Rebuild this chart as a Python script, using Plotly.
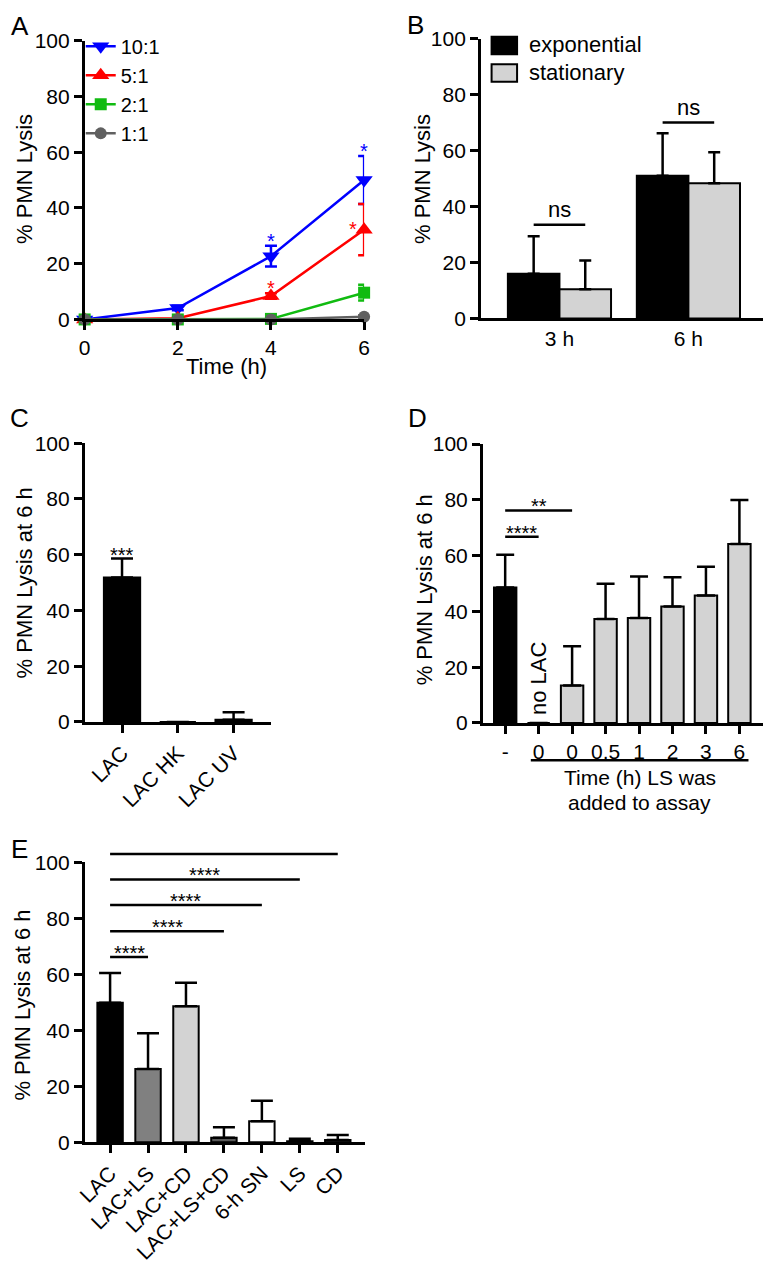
import plotly.graph_objects as go

W, H = 771, 1263
FONT = "Liberation Sans, Arial, sans-serif"
OFF = 8  # the page body adds an 8 px margin; positions below are in screenshot pixels

# ---------------- data ----------------
# Panel A
timesA = [0, 2, 4, 6]
ratio_names = ["10:1", "5:1", "2:1", "1:1"]
lysis_10 = [0, 4.1, 22.7, 50.0]
err_10 = [0, 0.8, 3.7, 8.6]
lysis_5 = [0, 0.4, 8.4, 32.2]
err_5 = [0, 0.3, 1.0, 9.2]
lysis_2 = [0, 0, 0.2, 9.6]
err_2 = [0, 0, 0.3, 2.8]
lysis_1 = [0, 0, 0, 1.0]
err_1 = [0, 0, 0, 0.5]
colorsA = ["#0000ff", "#ff0000", "#11bb11", "#606060"]
symbolsA = ["triangle-down", "triangle-up", "square", "circle"]
starsA = [(0, 2), (0, 3), (1, 2), (1, 3)]  # (series index, time index)

# Panel B
phase_cats = ["3 h", "6 h"]
phase_names = ["exponential", "stationary"]
exp_vals = [16.0, 51.0]
exp_err = [13.4, 15.2]
stat_vals = [10.4, 48.3]
stat_err = [10.3, 11.1]
nsB = [(0, 33.5), (1, 70.0)]

# Panel C
c_cats = ["LAC", "LAC HK", "LAC UV"]
c_vals = [51.8, 0, 0.8]
c_err = [6.8, 0, 2.7]

# Panel D
d_ticks = ["-", "0", "0", "0.5", "1", "2", "3", "6"]
d_vals = [48.6, 0, 13.4, 37.3, 37.6, 41.8, 45.7, 64.2]
d_err = [11.7, 0, 14.1, 12.6, 14.9, 10.5, 10.3, 15.8]
d_colors = ["black"] + ["#d3d3d3"] * 7
sigD = [(0, 1, 66.8, "****"), (0, 2, 76.2, "**")]

# Panel E
e_cats = ["LAC", "LAC+LS", "LAC+CD", "LAC+LS+CD", "6-h SN", "LS", "CD"]
e_vals = [49.8, 26.2, 48.6, 1.6, 7.5, 0.3, 0.8]
e_err = [10.7, 12.7, 8.4, 3.7, 7.3, 0.9, 1.8]
e_colors = ["black", "#808080", "#d3d3d3", "#595959", "white", "white", "#404040"]
sigE = [(0, 1, 66.2), (0, 3, 75.4), (0, 4, 84.8), (0, 5, 93.9), (0, 6, 103.0)]


# ---------------- helpers ----------------
def px(x):
    return (x - OFF) / W


def py(y):
    return 1 - (y - OFF) / H


ranges = {
    "A": [0, 6],
    "B": [-0.61, 1.58],
    "C": [-0.67, 2.67],
    "D": [-0.67, 7.74],
    "E": [-0.67, 6.72],
}
xdom = {"A": [77, 362], "B": [481, 769], "C": [77, 267], "D": [483, 770], "E": [77, 363]}
ydom = {"A": [313, 29], "B": [312, 27], "C": [723, 439], "D": [724, 440], "E": [1151, 866]}


def xpaper(panel, v):
    r0, r1 = ranges[panel]
    d0, d1 = xdom[panel]
    return px(d0 + (v - r0) / (r1 - r0) * (d1 - d0))


def ypaper(panel, v):
    d0, d1 = ydom[panel]
    return py(d0 + v / 100 * (d1 - d0))


fig = go.Figure()

# ---------------- Panel A ----------------
seriesA = [(lysis_10, err_10), (lysis_5, err_5), (lysis_2, err_2), (lysis_1, err_1)]
for i, (vals, errs) in enumerate(seriesA):
    fig.add_trace(go.Scatter(
        x=timesA, y=vals, name=ratio_names[i], mode="lines+markers",
        line=dict(color=colorsA[i], width=2.5),
        marker=dict(symbol=symbolsA[i], size=15 if i < 2 else 12, color=colorsA[i]),
        error_y=dict(type="data", array=errs, color=colorsA[i], thickness=2.5, width=6),
        cliponaxis=False, xaxis="x", yaxis="y", legend="legend",
    ))

# ---------------- Panel B ----------------
fig.add_trace(go.Bar(
    x=[0, 1], y=exp_vals, name=phase_names[0], marker=dict(color="black", line=dict(color="black", width=2)),
    error_y=dict(type="data", symmetric=False, array=exp_err, arrayminus=[0, 0], color="black", thickness=2.5, width=6),
    xaxis="x2", yaxis="y2", showlegend=False, offsetgroup="e",
))
fig.add_trace(go.Bar(
    x=[0, 1], y=stat_vals, name=phase_names[1], marker=dict(color="#d3d3d3", line=dict(color="black", width=2)),
    error_y=dict(type="data", symmetric=False, array=stat_err, arrayminus=[0, 0], color="black", thickness=2.5, width=6),
    xaxis="x2", yaxis="y2", showlegend=False, offsetgroup="s",
))

# ---------------- Panel C ----------------
fig.add_trace(go.Bar(
    x=list(range(len(c_cats))), y=c_vals, width=0.65,
    marker=dict(color="black", line=dict(color="black", width=2)),
    error_y=dict(type="data", symmetric=False, array=c_err, arrayminus=[0] * len(c_err), color="black", thickness=2.5, width=11),
    xaxis="x3", yaxis="y3", showlegend=False,
))

# ---------------- Panel D ----------------
fig.add_trace(go.Bar(
    x=list(range(len(d_ticks))), y=d_vals, width=0.67,
    marker=dict(color=d_colors, line=dict(color="black", width=2)),
    error_y=dict(type="data", symmetric=False, array=d_err, arrayminus=[0] * len(d_err), color="black", thickness=2.5, width=9),
    xaxis="x4", yaxis="y4", showlegend=False,
))

# ---------------- Panel E ----------------
fig.add_trace(go.Bar(
    x=list(range(len(e_cats))), y=e_vals, width=0.67,
    marker=dict(color=e_colors, line=dict(color="black", width=2)),
    error_y=dict(type="data", symmetric=False, array=e_err, arrayminus=[0] * len(e_err), color="black", thickness=2.5, width=11),
    xaxis="x5", yaxis="y5", showlegend=False,
))

# ---------------- axes ----------------
base = dict(showline=True, linecolor="black", linewidth=2.5, ticks="outside", ticklen=8,
            tickwidth=2.5, tickcolor="black", showgrid=False, zeroline=False,
            tickfont=dict(size=21, color="black", family=FONT))
ybase = dict(base, range=[0, 100], tickvals=[0, 20, 40, 60, 80, 100])

layout = dict(
    width=W, height=H, margin=dict(l=0, r=0, t=0, b=0),
    plot_bgcolor="white", paper_bgcolor="white",
    font=dict(family=FONT, color="black", size=21),
    barmode="group", bargap=0.2, bargroupgap=0,
    legend=dict(x=px(73), y=py(15), xanchor="left", yanchor="top", bgcolor="rgba(0,0,0,0)",
                font=dict(size=20), itemwidth=30, tracegroupgap=0),
)
names = {"A": ("xaxis", "yaxis", "x", "y"), "B": ("xaxis2", "yaxis2", "x2", "y2"),
         "C": ("xaxis3", "yaxis3", "x3", "y3"), "D": ("xaxis4", "yaxis4", "x4", "y4"),
         "E": ("xaxis5", "yaxis5", "x5", "y5")}
for p, (xn, yn, xa, ya) in names.items():
    layout[xn] = dict(base, domain=[px(xdom[p][0]), px(xdom[p][1])], range=ranges[p], anchor=ya)
    layout[yn] = dict(ybase, domain=[py(ydom[p][0]), py(ydom[p][1])], anchor=xa)

layout["xaxis"].update(tickvals=timesA)
layout["xaxis2"].update(tickvals=[0, 1], ticktext=phase_cats, ticks="")
layout["xaxis3"].update(tickvals=list(range(len(c_cats))), ticktext=c_cats, tickangle=-45)
layout["xaxis4"].update(tickvals=list(range(len(d_ticks))), ticktext=d_ticks)
layout["xaxis5"].update(tickvals=list(range(len(e_cats))), ticktext=e_cats, tickangle=-45)
fig.update_layout(**layout)

ann = []
shapes = []


def text(x, y, s, size=22, **kw):
    d = dict(x=x, y=y, xref="paper", yref="paper", text=s, showarrow=False,
             xanchor="center", yanchor="middle",
             font=dict(size=size, color=kw.pop("color", "black"), family=FONT))
    d.update(kw)
    ann.append(d)


def star(x, y, xr, yr, s, color="black", **kw):
    d = dict(x=x, y=y, xref=xr, yref=yr, text=s, showarrow=False, xanchor="center",
             yanchor="bottom", font=dict(size=20, color=color, family=FONT))
    d.update(kw)
    ann.append(d)


# panel letters
for lab, (lx, ly) in {"A": (11, 14), "B": (414, 13), "C": (11, 413), "D": (416, 413), "E": (11, 852)}.items():
    text(px(lx), py(ly), lab, size=26)

# y titles
text(px(15), py(170), "% PMN Lysis", textangle=-90)
text(px(421), py(170), "% PMN Lysis", textangle=-90)
text(px(16), py(581), "% PMN Lysis at 6 h", textangle=-90)
text(px(424), py(588), "% PMN Lysis at 6 h", textangle=-90)
text(px(14), py(1011), "% PMN Lysis at 6 h", textangle=-90)

# A x title
text(px(222), py(361), "Time (h)")

# A stars
for si, ti in starsA:
    vals, errs = seriesA[si]
    if si == 1 and ti == 3:
        star(timesA[ti], vals[ti], "x", "y", "*", color=colorsA[si], yanchor="middle", xshift=-11, yshift=1)
    else:
        star(timesA[ti], vals[ti] + errs[ti], "x", "y", "*", color=colorsA[si], yshift=-8)

# B legend (manual)
for k, (col, nm) in enumerate(zip(["black", "#d3d3d3"], phase_names)):
    y0 = 25 + k * 28
    shapes.append(dict(type="rect", xref="paper", yref="paper", x0=px(492), x1=px(518),
                       y0=py(y0), y1=py(y0 + 18), fillcolor=col, line=dict(color="black", width=2)))
    text(px(528), py(y0 + 8), nm, xanchor="left")

# B ns
for gi, v in nsB:
    shapes.append(dict(type="line", xref="paper", yref="paper",
                       x0=xpaper("B", gi - 0.2), x1=xpaper("B", gi + 0.2),
                       y0=ypaper("B", v), y1=ypaper("B", v), line=dict(color="black", width=2.5)))
    ann.append(dict(x=gi, y=v, xref="x2", yref="y2", text="ns", showarrow=False, yanchor="bottom",
                    yshift=1, font=dict(size=22, color="black", family=FONT)))

# C stars
star(0, c_vals[0] + c_err[0], "x3", "y3", "***", yshift=-9)

# D significance
for a, b, v, s in sigD:
    shapes.append(dict(type="line", xref="paper", yref="paper", x0=xpaper("D", a), x1=xpaper("D", b),
                       y0=ypaper("D", v), y1=ypaper("D", v), line=dict(color="black", width=2.5)))
    star((a + b) / 2, v, "x4", "y4", s, yshift=-9)
ann.append(dict(x=1, y=0, xref="x4", yref="y4", text="no LAC", showarrow=False, textangle=-90,
                xanchor="center", yanchor="bottom", yshift=6, font=dict(size=22, color="black", family=FONT)))
shapes.append(dict(type="line", xref="paper", yref="paper", x0=px(532), x1=px(754), y0=py(762), y1=py(762),
                   line=dict(color="black", width=2.5)))
text(px(643), py(780), "Time (h) LS was", size=21)
text(px(643), py(805), "added to assay", size=21)

# E significance
for a, b, v in sigE:
    shapes.append(dict(type="line", xref="paper", yref="paper", x0=xpaper("E", a), x1=xpaper("E", b),
                       y0=ypaper("E", v), y1=ypaper("E", v), line=dict(color="black", width=2.5)))
    star((a + b) / 2, v, "x5", "y5", "****", yshift=-9)

fig.update_layout(annotations=ann, shapes=shapes)
fig.write_html("out.html")
